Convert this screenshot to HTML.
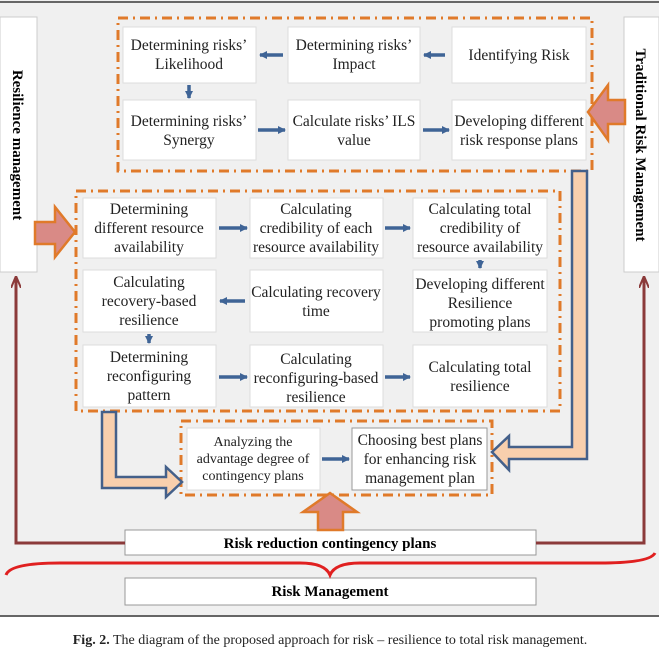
<!DOCTYPE html>
<html><head><meta charset="utf-8"><style>
body{margin:0;background:#fff;}
svg{display:block;font-family:"Liberation Serif",serif;}
</style></head><body>
<svg width="659" height="659" viewBox="0 0 659 659">
<rect x="0" y="0" width="659" height="616" fill="#f0f0f0"/>
<line x1="0" y1="2" x2="659" y2="2" stroke="#666" stroke-width="2"/>
<line x1="0" y1="616" x2="659" y2="616" stroke="#666" stroke-width="2"/>
<rect x="0" y="17" width="37" height="255" fill="#fff" stroke="#ccc"/>
<rect x="624" y="17" width="35" height="255" fill="#fff" stroke="#ccc"/>
<text transform="translate(13,145) rotate(90)" text-anchor="middle" font-size="15" font-weight="bold">Resilience management</text>
<text transform="translate(636,145) rotate(90)" text-anchor="middle" font-size="15" font-weight="bold">Traditional Risk Management</text>
<g fill="none" stroke="#e07a2a" stroke-width="3" stroke-dasharray="10,5,2,5">
<rect x="118" y="18" width="474" height="153"/>
<rect x="76" y="191" width="484" height="220"/>
<rect x="181" y="421" width="311" height="74"/>
</g>
<g fill="#fff" stroke="#ddd">
<rect x="123" y="27" width="133" height="56"/><rect x="288" y="27" width="132" height="56"/><rect x="452" y="27" width="134" height="56"/>
<rect x="123" y="100" width="133" height="60"/><rect x="288" y="100" width="132" height="60"/><rect x="452" y="100" width="134" height="60"/>
<rect x="83" y="198" width="133" height="60"/><rect x="250" y="198" width="133" height="60"/><rect x="413" y="198" width="134" height="60"/>
<rect x="83" y="270" width="133" height="62"/><rect x="250" y="270" width="133" height="62"/><rect x="413" y="270" width="134" height="62"/>
<rect x="83" y="345" width="133" height="62"/><rect x="250" y="345" width="133" height="62"/><rect x="413" y="345" width="134" height="62"/>
<rect x="187" y="428" width="133" height="62"/><rect x="352" y="428" width="135" height="62" stroke="#999"/>
<rect x="125" y="530" width="411" height="25" stroke="#999"/>
<rect x="125" y="578" width="411" height="27" stroke="#999"/>
</g>
<g font-size="15.5" text-anchor="middle" fill="#222">
<text x="189" y="50">Determining risks’</text><text x="189" y="69">Likelihood</text>
<text x="354" y="50">Determining risks’</text><text x="354" y="69">Impact</text>
<text x="519" y="60">Identifying Risk</text>
<text x="189" y="126">Determining risks’</text><text x="189" y="145">Synergy</text>
<text x="354" y="126">Calculate risks’ ILS</text><text x="354" y="145">value</text>
<text x="519" y="126">Developing different</text><text x="519" y="145">risk response plans</text>
<text x="149" y="214">Determining</text><text x="149" y="233">different resource</text><text x="149" y="252">availability</text>
<text x="316" y="214">Calculating</text><text x="316" y="233">credibility of each</text><text x="316" y="252">resource availability</text>
<text x="480" y="214">Calculating total</text><text x="480" y="233">credibility of</text><text x="480" y="252">resource availability</text>
<text x="149" y="287">Calculating</text><text x="149" y="306">recovery-based</text><text x="149" y="325">resilience</text>
<text x="316" y="297">Calculating recovery</text><text x="316" y="316">time</text>
<text x="480" y="289">Developing different</text><text x="480" y="308">Resilience</text><text x="480" y="327">promoting plans</text>
<text x="149" y="362">Determining</text><text x="149" y="381">reconfiguring</text><text x="149" y="400">pattern</text>
<text x="316" y="364">Calculating</text><text x="316" y="383">reconfiguring-based</text><text x="316" y="402">resilience</text>
<text x="480" y="372">Calculating total</text><text x="480" y="391">resilience</text>
<text x="420" y="445">Choosing best plans</text><text x="420" y="464">for enhancing risk</text><text x="420" y="483">management plan</text>
</g>
<g font-size="14" text-anchor="middle" fill="#222">
<text x="253" y="446">Analyzing the</text><text x="253" y="463">advantage degree of</text><text x="253" y="480">contingency plans</text>
</g>
<g font-size="15" font-weight="bold" text-anchor="middle">
<text x="330" y="548">Risk reduction contingency plans</text>
<text x="330" y="596">Risk Management</text>
</g>
<defs><marker id="a" markerWidth="8" markerHeight="8" refX="7" refY="4" orient="auto" markerUnits="userSpaceOnUse"><path d="M0,0L8,4L0,8z" fill="#3f6496"/></marker>
<marker id="r" markerWidth="12" markerHeight="10" refX="11" refY="5" orient="auto" markerUnits="userSpaceOnUse"><path d="M0,0L12,5L0,10" fill="none" stroke="#8b3a3a" stroke-width="2"/></marker></defs>
<g stroke="#3f6496" stroke-width="3.5" marker-end="url(#a)">
<line x1="445" y1="55" x2="424" y2="55"/><line x1="283" y1="55" x2="260" y2="55"/>
<line x1="189" y1="85" x2="189" y2="98"/>
<line x1="258" y1="130" x2="285" y2="130"/><line x1="423" y1="130" x2="449" y2="130"/>
<line x1="219" y1="228" x2="247" y2="228"/><line x1="385" y1="228" x2="410" y2="228"/>
<line x1="480" y1="260" x2="480" y2="268"/>
<line x1="245" y1="301" x2="220" y2="301"/>
<line x1="149" y1="334" x2="149" y2="343"/>
<line x1="219" y1="377" x2="247" y2="377"/><line x1="385" y1="377" x2="410" y2="377"/>
<line x1="322" y1="459" x2="349" y2="459"/>
</g>
<g fill="#d98a86" stroke="#e07a2a" stroke-width="2.5">
<path d="M35,222H55V207L75,232L55,257V244H35Z"/>
<path d="M625,100H608V85L588,112L608,140V124H625Z"/>
<path d="M318,530V512H303L330,493L357,512H343V530Z"/>
</g>
<g fill="#f8cfad" stroke="#44608a" stroke-width="2.5">
<path d="M102,412H116V477H166V467L182,482L166,497V488H102Z"/>
<path d="M572,171H587V459H509V470L492,452L509,436V447H572Z"/>
</g>
<g fill="none" stroke="#8b3a3a" stroke-width="3">
<path d="M125,543H16V277" marker-end="url(#r)"/>
<path d="M536,543H644V277" marker-end="url(#r)"/>
</g>
<path d="M6,575Q10,563 60,563H300Q325,563 330,575Q335,563 360,563H600Q650,563 655,553" fill="none" stroke="#e02020" stroke-width="3"/>
<text x="330" y="644" text-anchor="middle" font-size="14" fill="#222"><tspan font-weight="bold">Fig. 2.</tspan> The diagram of the proposed approach for risk – resilience to total risk management.</text>
</svg>
</body></html>
